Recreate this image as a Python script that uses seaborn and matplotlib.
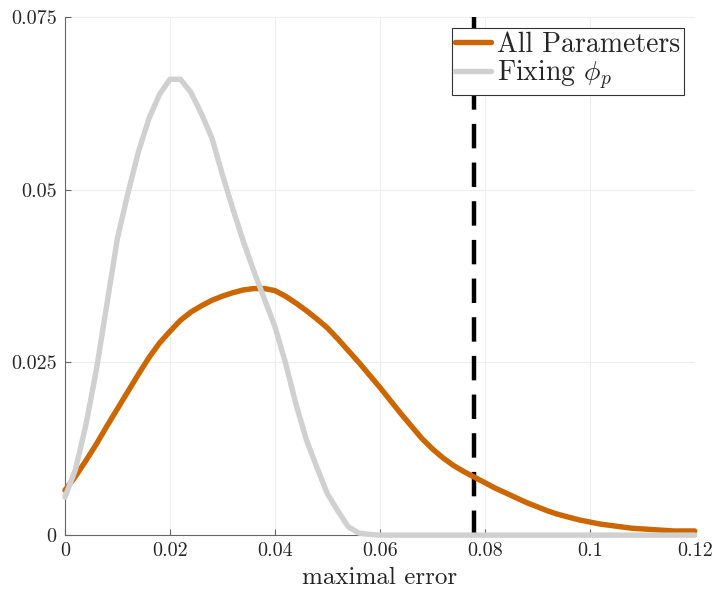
import matplotlib
matplotlib.use('Agg')
import matplotlib.pyplot as plt
import numpy as np
import pandas as pd
import seaborn as sns

# x grid of the estimated densities
err = np.round(np.arange(0, 0.1201, 0.002), 3)

all_params = [0.0065, 0.0085, 0.0108, 0.0132, 0.0158, 0.0183, 0.0208, 0.0233,
              0.0257, 0.0278, 0.0295, 0.0311, 0.0323, 0.0332, 0.0340, 0.0346,
              0.0351, 0.0355, 0.0357, 0.0357, 0.0354, 0.0346, 0.0336, 0.0325,
              0.0313, 0.0300, 0.0284, 0.0267, 0.0250, 0.0232, 0.0214, 0.0195,
              0.0176, 0.0158, 0.0140, 0.0125, 0.0112, 0.0101, 0.0092, 0.0084,
              0.0076, 0.0068, 0.0061, 0.0054, 0.0047, 0.0041, 0.0035, 0.0030,
              0.0026, 0.0022, 0.0019, 0.0016, 0.0014, 0.0012, 0.0010, 0.0009,
              0.0008, 0.0007, 0.0006, 0.0006, 0.0006]

fixing_phi = [0.0055, 0.0095, 0.0160, 0.0240, 0.0335, 0.0430, 0.0495, 0.0555,
              0.0603, 0.0638, 0.0660, 0.0660, 0.0641, 0.0610, 0.0575, 0.0522,
              0.0472, 0.0425, 0.0382, 0.0342, 0.0302, 0.0250, 0.0190, 0.0138,
              0.0098, 0.0060, 0.0035, 0.0012, 0.0003, 0.0001, 0.0, 0.0, 0.0,
              0.0, 0.0, 0.0, 0.0, 0.0, 0.0, 0.0, 0.0, 0.0, 0.0, 0.0, 0.0, 0.0,
              0.0, 0.0, 0.0, 0.0, 0.0, 0.0, 0.0, 0.0, 0.0, 0.0, 0.0, 0.0, 0.0,
              0.0, 0.0]

threshold = 0.078

x_ticks = [0, 0.02, 0.04, 0.06, 0.08, 0.1, 0.12]
x_labels = ['0', '0.02', '0.04', '0.06', '0.08', '0.1', '0.12']
y_ticks = [0, 0.025, 0.05, 0.075]
y_labels = ['0', '0.025', '0.05', '0.075']

df = pd.DataFrame({'err': err, 'All Parameters': all_params,
                   r'Fixing $\phi_p$': fixing_phi})
df = df.melt(id_vars='err', var_name='model', value_name='density')

sns.set_style('ticks')
plt.rcParams['font.family'] = 'serif'
plt.rcParams['font.serif'] = ['cmr10', 'DejaVu Serif']
plt.rcParams['mathtext.fontset'] = 'cm'
plt.rcParams['axes.unicode_minus'] = False

fig, ax = plt.subplots(figsize=(7.14, 5.90), dpi=100)
fig.subplots_adjust(left=0.091, right=0.973, top=0.971, bottom=0.093)

ax.grid(True, color='#ededed', linewidth=0.8, zorder=0)
ax.axvline(threshold, color='black', linewidth=3.2, linestyle=(0, (5.5, 3.2)),
           zorder=2)
sns.lineplot(data=df, x='err', y='density', hue='model',
             palette=['#cc6600', '#d0d0d0'], linewidth=3.9, ax=ax,
             zorder=3, clip_on=False)

ax.set_xlim(0, 0.12)
ax.set_ylim(0, 0.075)
ax.set_xticks(x_ticks)
ax.set_xticklabels(x_labels)
ax.set_yticks(y_ticks)
ax.set_yticklabels(y_labels)
ax.tick_params(direction='in', length=4, labelsize=14.5, width=0.8,
               colors='#666666', labelcolor='#262626')
ax.tick_params(axis='y', pad=6)
ax.tick_params(axis='x', pad=5)
ax.set_xlabel('maximal error', fontsize=18, color='#262626', labelpad=5)
ax.set_ylabel('')

sns.despine(ax=ax)
for s in ['left', 'bottom']:
    ax.spines[s].set_color('#666666')
    ax.spines[s].set_linewidth(0.8)

leg = ax.legend(loc='upper right', fontsize=20, frameon=True, fancybox=False,
                handlelength=1.3, handletextpad=0.2, borderpad=0.12,
                labelspacing=0.02, borderaxespad=0.4, title=None)
leg.get_frame().set_edgecolor('#333333')
leg.get_frame().set_linewidth(0.8)
leg.get_frame().set_alpha(1)

fig.savefig('out.png', dpi=100)
